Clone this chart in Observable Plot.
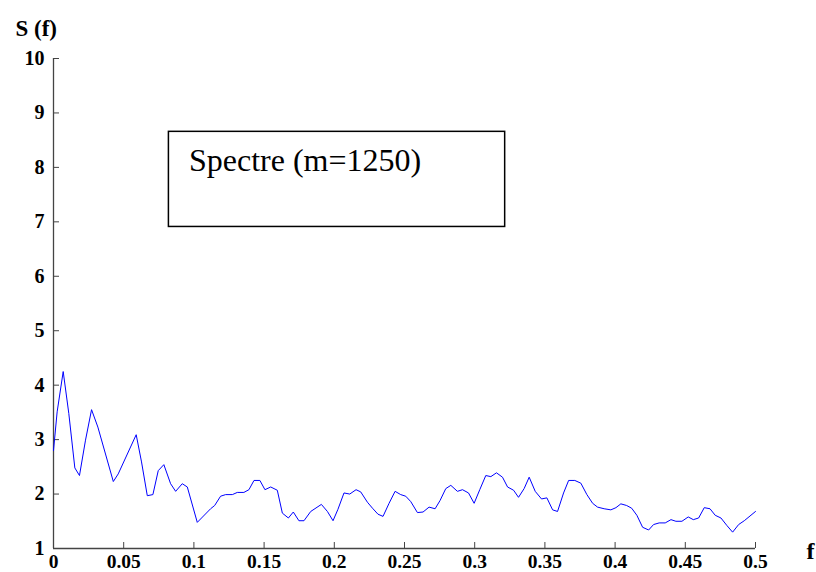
<!DOCTYPE html>
<html>
<head>
<meta charset="utf-8">
<script src="https://cdn.jsdelivr.net/npm/d3@7"></script>
<script src="https://cdn.jsdelivr.net/npm/@observablehq/plot@0.6"></script>
<style>
  html, body { margin: 0; padding: 0; background: #fff; }
  #chart svg { display: block; }
</style>
</head>
<body>
<div id="chart"></div>
<script>
// Frequencies f of the estimated spectrum
const freq = [
  0, 0.0026, 0.0069, 0.0109, 0.0152, 0.0185, 0.0228, 0.0271, 0.0316, 0.0426,
  0.0461, 0.0589, 0.0627, 0.0668, 0.0708, 0.0746, 0.0786, 0.0834, 0.0870, 0.0917,
  0.0953, 0.1024, 0.1119, 0.1148, 0.1190, 0.1226, 0.1274, 0.1309, 0.1356, 0.1392,
  0.1428, 0.1470, 0.1506, 0.1547, 0.1594, 0.1630, 0.1673, 0.1708, 0.1748, 0.1784,
  0.1832, 0.1908, 0.1951, 0.1991, 0.2026, 0.2069, 0.2110, 0.2155, 0.2188, 0.2236,
  0.2272, 0.2311, 0.2347, 0.2390, 0.2433, 0.2473, 0.2509, 0.2545, 0.2592, 0.2632,
  0.2675, 0.2718, 0.2753, 0.2794, 0.2830, 0.2877, 0.2913, 0.2956, 0.2996, 0.3036,
  0.3079, 0.3115, 0.3155, 0.3198, 0.3234, 0.3277, 0.3312, 0.3352, 0.3388, 0.3431,
  0.3476, 0.3514, 0.3555, 0.3590, 0.3633, 0.3669, 0.3713, 0.3756, 0.3799, 0.3840,
  0.3875, 0.3922, 0.3970, 0.4006, 0.4041, 0.4082, 0.4118, 0.4155, 0.4196, 0.4239,
  0.4274, 0.4314, 0.4357, 0.4398, 0.4433, 0.4476, 0.4521, 0.4557, 0.4595, 0.4635,
  0.4676, 0.4713, 0.4754, 0.4797, 0.4837, 0.4880, 0.4920, 0.5
];

// Spectral density S(f)
const spectrum = [
  2.80, 3.51, 4.25, 3.48, 2.48, 2.34, 2.99, 3.55, 3.23, 2.23,
  2.37, 3.09, 2.59, 1.97, 1.99, 2.43, 2.54, 2.19, 2.05, 2.19,
  2.13, 1.48, 1.73, 1.79, 1.96, 1.99, 1.99, 2.03, 2.03, 2.08,
  2.25, 2.25, 2.08, 2.13, 2.07, 1.65, 1.56, 1.67, 1.51, 1.51,
  1.68, 1.81, 1.68, 1.51, 1.72, 2.02, 2.00, 2.08, 2.04, 1.85,
  1.74, 1.63, 1.59, 1.83, 2.05, 1.99, 1.96, 1.86, 1.66, 1.67,
  1.76, 1.73, 1.88, 2.10, 2.16, 2.05, 2.08, 2.02, 1.83, 2.08,
  2.34, 2.32, 2.39, 2.31, 2.13, 2.07, 1.94, 2.10, 2.31, 2.05,
  1.91, 1.93, 1.71, 1.68, 2.02, 2.25, 2.25, 2.20, 1.99, 1.83,
  1.76, 1.73, 1.71, 1.75, 1.82, 1.79, 1.74, 1.61, 1.39, 1.34,
  1.44, 1.47, 1.47, 1.53, 1.50, 1.50, 1.58, 1.53, 1.56, 1.75,
  1.73, 1.61, 1.56, 1.42, 1.30, 1.44, 1.51, 1.68
];

// Axis ticks
const xTicks = [0, 0.05, 0.1, 0.15, 0.2, 0.25, 0.3, 0.35, 0.4, 0.45, 0.5];
const yTicks = [1, 2, 3, 4, 5, 6, 7, 8, 9, 10];

// Texts
const yTitle = "S (f)";
const xTitle = "f";
const legendText = "Spectre (m=1250)";

// Legend box, in data units
const legendBox = { x1: 0.0822, x2: 0.3217, y1: 6.906, y2: 8.653 };
const legendAnchor = { x: 0.0965, y: 8.12 };

const points = freq.map((f, i) => ({ f, s: spectrum[i] }));

const axisColor = "#444";
const serif = "'Liberation Serif', 'Times New Roman', serif";

const chart = Plot.plot({
  width: 816,
  height: 572,
  marginLeft: 53,
  marginRight: 61,
  marginTop: 58,
  marginBottom: 24,
  style: { fontFamily: serif, background: "#fff", color: "#000", overflow: "visible" },
  x: { domain: [0, 0.5] },
  y: { domain: [1, 10] },
  marks: [
    // axis lines
    Plot.ruleY([1], { x1: 0, x2: 0.5, stroke: axisColor, strokeWidth: 1.3 }),
    Plot.ruleX([0], { y1: 1, y2: 10, stroke: axisColor, strokeWidth: 1.3 }),
    // inward ticks and bold labels
    Plot.axisX(xTicks, {
      tickSize: -6, tickPadding: 11.5, stroke: axisColor,
      tickFormat: d => String(d), fontSize: 19.5, fontWeight: "bold", fill: "#000",
      label: null
    }),
    Plot.axisY(yTicks, {
      tickSize: -6, tickPadding: 15, stroke: axisColor,
      tickFormat: d => String(d), fontSize: 20, fontWeight: "bold", fill: "#000",
      label: null
    }),
    // spectrum curve
    Plot.line(points, { x: "f", y: "s", stroke: "#0000ff", strokeWidth: 1 }),
    // legend box
    Plot.rect([legendBox], { x1: "x1", x2: "x2", y1: "y1", y2: "y2", fill: "none", stroke: "#000", strokeWidth: 1.5 }),
    Plot.text([legendText], { x: legendAnchor.x, y: legendAnchor.y, textAnchor: "start", fontSize: 32, fill: "#000" }),
    // axis titles
    Plot.text([yTitle], { frameAnchor: "top-left", dx: -38, dy: -30, textAnchor: "start", lineAnchor: "middle", fontSize: 23, fontWeight: "bold", fill: "#000" }),
    Plot.text([xTitle], { frameAnchor: "bottom-right", dx: 51, dy: 3, textAnchor: "start", lineAnchor: "middle", fontSize: 24, fontWeight: "bold", fill: "#000" })
  ]
});

document.getElementById("chart").appendChild(chart);
</script>
</body>
</html>
